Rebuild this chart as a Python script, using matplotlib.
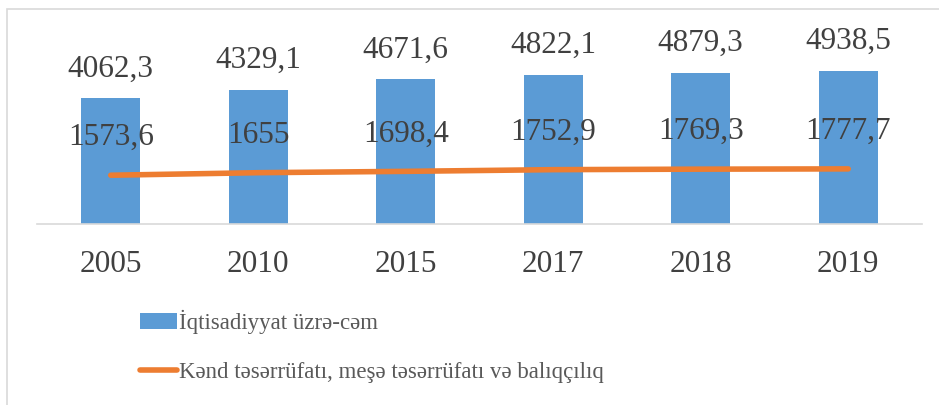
import matplotlib.pyplot as plt
from matplotlib.patches import Rectangle

years = ["2005", "2010", "2015", "2017", "2018", "2019"]
total = [4062.3, 4329.1, 4671.6, 4822.1, 4879.3, 4938.5]
agri = [1573.6, 1655, 1698.4, 1752.9, 1769.3, 1777.7]
total_labels = ["4062,3", "4329,1", "4671,6", "4822,1", "4879,3", "4938,5"]
agri_labels = ["1573,6", "1655", "1698,4", "1752,9", "1769,3", "1777,7"]

plt.rcParams["font.family"] = ["Liberation Serif", "DejaVu Serif"]

W, H = 939, 405
fig = plt.figure(figsize=(W / 100, H / 100), dpi=100)
ax = fig.add_axes([37 / W, 1 - 224 / H, (922 - 37) / W, (224 - 38) / H])

x = range(len(years))
bars = ax.bar(x, total, width=0.4, color="#5B9BD5", label="İqtisadiyyat üzrə-cəm", zorder=2)
line, = ax.plot(x, agri, color="#ED7D31", lw=4, solid_capstyle="round",
                label="Kənd təsərrüfatı, meşə təsərrüfatı və balıqçılıq", zorder=3)

for i in x:
    ax.annotate(total_labels[i], (i, total[i]), xytext=(0, 21), textcoords="offset points",
                ha="center", va="center", fontsize=22.5, color="#404040")
    ax.annotate(agri_labels[i], (i, agri[i]), xytext=(0, 27), textcoords="offset points",
                ha="center", va="center", fontsize=22.5, color="#404040", zorder=4)

ax.set_xlim(-0.5, len(years) - 0.5)
ax.set_ylim(0, 6000)
ax.set_xticks(list(x))
ax.set_xticklabels(years, fontsize=22.5, color="#404040")
ax.tick_params(axis="x", length=0, pad=19)
ax.set_yticks([])
for s in ["top", "left", "right"]:
    ax.spines[s].set_visible(False)
ax.spines["bottom"].set_color("#d9d9d9")
ax.spines["bottom"].set_linewidth(1.2)

fig.legend(handles=[bars, line], loc="upper left", bbox_to_anchor=(140 / W, 1 - 310 / H),
           frameon=False, fontsize=16.5, handlelength=1.6, handletextpad=0.1,
           labelspacing=1.2, borderpad=0, borderaxespad=0, labelcolor="#595959")

fig.patches.append(Rectangle((7 / W, -0.1), 1.2, 1 - 9 / H + 0.1, transform=fig.transFigure,
                             fill=False, edgecolor="#d9d9d9", lw=1.2))

fig.savefig("out.png", dpi=100)
